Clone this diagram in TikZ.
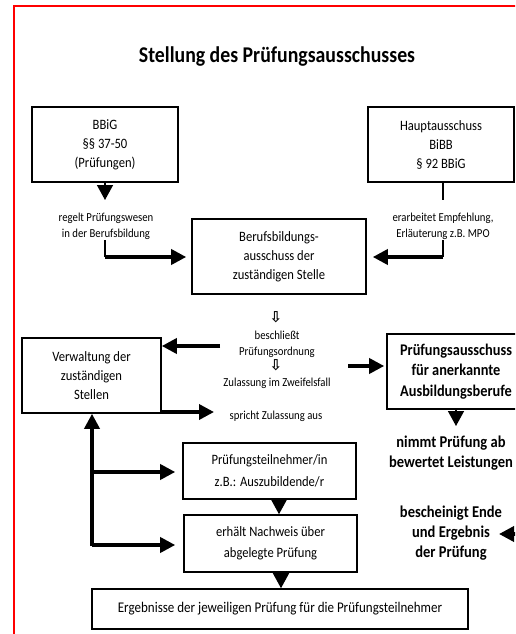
\documentclass[tikz,border=0pt]{standalone}
\usepackage{fontspec}
\setmainfont{Carlito}[FakeStretch=0.88]
\newfontfamily\symfont{DejaVu Sans}
\usetikzlibrary{arrows.meta}
\tikzset{
  box/.style={draw, line width=1.6pt, align=center, inner sep=0pt, font=\fontsize{14.3}{19}\selectfont},
  boldbox/.style={box, font=\bfseries\fontsize{16.3}{20.5}\selectfont},
  small/.style={align=center, inner sep=0pt, font=\fontsize{12.2}{16}\selectfont},
  boldlbl/.style={align=center, inner sep=0pt, font=\bfseries\fontsize{16.5}{20}\selectfont},
  fat/.style={line width=3.5pt, -{Triangle[length=15pt,width=15pt]}},
  tip/.style={line width=1.5pt, -{Triangle[length=15pt,width=16pt]}},
  thin/.style={line width=1.2pt},
  hollow/.style={inner sep=0pt, font=\symfont\bfseries\fontsize{15}{15}\selectfont},
}
\begin{document}
\begin{tikzpicture}[x=1pt,y=-1pt]
\useasboundingbox (0,0) rectangle (515,634);
\clip (0,0) rectangle (515,634);
\fill[white] (0,0) rectangle (515,634);
% red frame
\draw[red, line width=1.8pt] (14.3,640) -- (14.3,5.7) -- (530,5.7);

% title
\node[inner sep=0pt, font=\bfseries\fontsize{22.5}{24}\selectfont] (title) at (277,57) {Stellung des Prüfungsausschusses};

% boxes
\node[box, minimum width=146pt, minimum height=75pt] (bbig) at (105,144.5) {BBiG\\§§ 37-50\\(Prüfungen)};
\node[box, minimum width=146pt, minimum height=75pt] (haupt) at (441,144.5) {Hauptausschuss\\BiBB\\§ 92 BBiG};
\node[box, minimum width=174pt, minimum height=75pt] (bbs) at (279,256.5) {Berufsbildungs-\\ausschuss der\hspace{14pt}\\zuständigen Stelle};
\node[box, minimum width=139pt, minimum height=75pt] (verw) at (91.5,375.5) {Verwaltung der\\zuständigen\\Stellen};
\node[boldbox, minimum width=138pt, minimum height=75pt] (pa) at (456,371.5) {Prüfungsausschuss\\für anerkannte\\Ausbildungsberufe};
\node[box, minimum width=173pt, minimum height=56pt, font=\fontsize{14.3}{22}\selectfont] (pt) at (269.5,471) {Prüfungsteilnehmer/in\\z.B.: Auszubildende/r};
\node[box, minimum width=173pt, minimum height=57pt, font=\fontsize{14.3}{21}\selectfont] (en) at (270.5,543.5) {erhält Nachweis über\\abgelegte Prüfung};
\node[box, minimum width=376pt, minimum height=40pt, font=\fontsize{14.8}{18}\selectfont] (erg) at (280,609) {\raisebox{-8pt}{Ergebnisse der jeweiligen Prüfung für die Prüfungsteilnehmer}};

% labels
\node[small] (regelt) at (106,226) {regelt Prüfungswesen\\in der Berufsbildung};
\node[small] (erarb) at (443,226) {erarbeitet Empfehlung,\\Erläuterung z.B. MPO};
\node[hollow] (h1) at (276,317) {⇩};
\node[small] (beschl) at (277,344) {beschließt\\Prüfungsordnung};
\node[hollow] (h2) at (276,365) {⇩};
\node[small] (zul) at (277,383) {Zulassung im Zweifelsfall};
\node[small] (spricht) at (276,416) {spricht Zulassung aus};
\node[boldlbl] (nimmt) at (451,453) {nimmt Prüfung ab\\bewertet Leistungen};
\node[boldlbl] (besch) at (451,533) {bescheinigt Ende\\und Ergebnis\\der Prüfung};

% helper coordinates
\coordinate (t1) at (105,200);
\coordinate (r1) at (105,240);
\coordinate (r2) at (105,257);
\coordinate (h0) at (443,200);
\coordinate (e1) at (443,240);
\coordinate (e2) at (443,257);
\coordinate (b1) at (220,346);
\coordinate (z1) at (348,366);
\coordinate (s1) at (214,412);
\coordinate (p1) at (456,426);
\coordinate (v1) at (92,546);
\coordinate (v2) at (92,472);
\coordinate (v3) at (92,545);
\coordinate (rr) at (530,534);
\coordinate (rt) at (499,534);

% connectors
\draw[tip] (bbig.south -| t1) -- (t1);
\draw[thin] (haupt.south -| h0) -- (h0);
\draw[thin] (r1) -- (r2);
\draw[fat, shorten >=5pt] (r2) -- (r2 -| bbs.west);
\draw[thin] (e1) -- (e2);
\draw[fat, shorten >=6pt] (e2) -- (e2 -| bbs.east);
\draw[fat] (b1) -- (b1 -| verw.east);
\draw[fat, shorten >=2pt] (z1) -- (z1 -| pa.west);
\draw[fat] (verw.east |- s1) -- (s1);
\draw[tip] (pa.south -| p1) -- (p1);
\draw[fat] (rr) -- (rt);
\draw[fat] (v1) -- (v1 |- verw.south);
\draw[fat, shorten >=7pt] (v2) -- (v2 -| pt.west);
\draw[fat, shorten >=8pt] (v3) -- (v3 -| en.west);
\draw[tip] (pt.south -| 279,0) -- (en.north -| 279,0);
\draw[tip] (en.south -| 281,0) -- (erg.north -| 281,0);
\end{tikzpicture}
\end{document}
